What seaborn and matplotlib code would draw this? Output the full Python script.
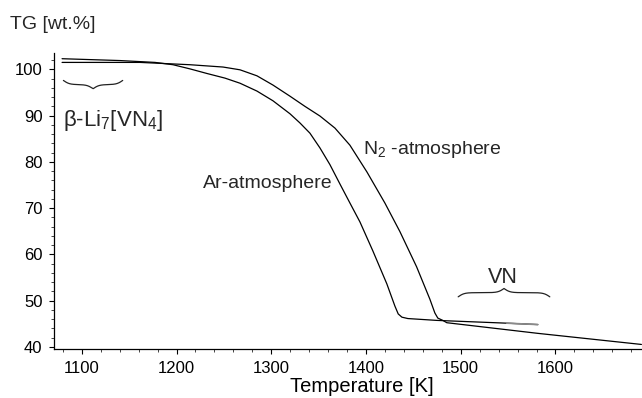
import numpy as np
import pandas as pd
import matplotlib
matplotlib.use("Agg")
import matplotlib.pyplot as plt
import seaborn as sns

# ---- data ----
ar_temp = [1079.2, 1140.4, 1177.3, 1196.3, 1214.2, 1232.2, 1251.2, 1267.0, 1284.9,
           1301.8, 1319.7, 1330.3, 1340.8, 1351.4, 1361.9, 1372.5, 1383.0, 1393.6,
           1407.3, 1422.0, 1430.5, 1434.0, 1437.9, 1444.2, 1474.8, 1548.6, 1581.3]
ar_tg = [102.3, 101.9, 101.5, 101.0, 100.1, 99.1, 98.1, 97.0, 95.3,
         93.2, 90.4, 88.4, 86.2, 83.0, 79.4, 75.2, 71.1, 67.0,
         60.7, 53.6, 48.8, 47.1, 46.4, 46.1, 45.7, 45.1, 44.8]

n2_temp = [1079.2, 1161.5, 1214.2, 1249.1, 1267.0, 1284.9, 1301.8, 1319.7, 1335.5,
           1351.4, 1367.2, 1383.0, 1401.0, 1419.9, 1435.8, 1453.4, 1467.4, 1472.7,
           1475.8, 1481.1, 1485.3, 1581.3, 1690.7]
n2_tg = [101.5, 101.5, 101.0, 100.5, 99.9, 98.6, 96.6, 94.2, 92.0,
         89.9, 87.3, 83.6, 77.8, 71.1, 64.9, 57.3, 50.3, 47.3,
         46.2, 45.7, 45.2, 42.9, 40.5]

ar_grey_from = 1548  # tail of the Ar curve drawn in grey

x_ticks = [1100, 1200, 1300, 1400, 1500, 1600]
y_ticks = [40, 50, 60, 70, 80, 90, 100]

labels = {
    "ylabel": "TG [wt.%]",
    "xlabel": "Temperature [K]",
    "ar": "Ar-atmosphere",
    "n2": "N$_2$ -atmosphere",
    "phase1": "β-Li$_7$[VN$_4$]",
    "phase2": "VN",
}

# brace extents (x0, x1, y of the line)
brace1 = (1080.6, 1143.2, 96.7)
brace2 = (1497.3, 1594.0, 51.7)

# ---- style ----
sns.set_theme(style="ticks")
plt.rcParams["font.family"] = ["Liberation Sans", "DejaVu Sans"]
plt.rcParams["mathtext.fontset"] = "custom"
plt.rcParams["mathtext.rm"] = "Liberation Sans"
plt.rcParams["mathtext.it"] = "Liberation Sans"
plt.rcParams["mathtext.default"] = "regular"

df = pd.concat([
    pd.DataFrame({"T": ar_temp, "TG": ar_tg, "atm": "Ar"}),
    pd.DataFrame({"T": n2_temp, "TG": n2_tg, "atm": "N2"}),
], ignore_index=True)

fig = plt.figure(figsize=(6.42, 3.98), dpi=100)
ax_l, ax_r, ax_t, ax_b = 54.3, 641.7, 52.7, 349.3
ax = fig.add_axes([ax_l / 642, 1 - ax_b / 398, (ax_r - ax_l) / 642, (ax_b - ax_t) / 398])

sns.lineplot(data=df, x="T", y="TG", hue="atm", palette={"Ar": "black", "N2": "black"},
             sort=False, estimator=None, linewidth=0.9, legend=False, ax=ax)
tail = df[(df["atm"] == "Ar") & (df["T"] >= ar_grey_from)]
sns.lineplot(data=tail, x="T", y="TG", color="#8a8a8a", sort=False, estimator=None,
             linewidth=1.2, legend=False, ax=ax)

ax.set_xlim(1071, 1691)
ax.set_ylim(39.45, 103.6)
ax.set_xticks(x_ticks)
ax.set_yticks(y_ticks)
ax.set_xticks(np.arange(1080, 1691, 20), minor=True)
ax.set_yticks(np.arange(40, 104, 2), minor=True)
ax.tick_params(axis="both", which="major", direction="out", length=3.5, width=0.8,
               labelsize=12, pad=5, colors="black")
ax.tick_params(axis="both", which="minor", direction="out", length=2, width=0.6)
for s in ["top", "right"]:
    ax.spines[s].set_visible(False)
for s in ["left", "bottom"]:
    ax.spines[s].set_linewidth(0.9)
    ax.spines[s].set_color("black")

ax.set_xlabel(labels["xlabel"], fontsize=14.5, color="black")
ax.xaxis.set_label_coords((362 - ax_l) / (ax_r - ax_l), -(392 - ax_b) / (ax_b - ax_t))
ax.xaxis.label.set_va("baseline")
ax.set_ylabel("")
fig.text(10 / 642, 1 - 29 / 398, labels["ylabel"], fontsize=14, ha="left", va="baseline")


def brace(ax, x0, x1, y, h, up, curl_px=3.0):
    """Curly brace: up=True -> middle tip points up (over-brace)."""
    n = 200
    width = x1 - x0
    width_px = width * (ax_r - ax_l) / 620.0
    xh = np.linspace(0, 0.5, n)
    beta = width_px / curl_px
    yh = 1 / (1 + np.exp(-beta * (xh - xh[0]))) + 1 / (1 + np.exp(-beta * (xh - xh[-1])))
    yy = np.concatenate([yh, yh[-2::-1]]) - 1.0
    xx = x0 + np.linspace(0, 1, len(yy)) * width
    sign = 1 if up else -1
    ax.plot(xx, y + sign * yy * h, color="#222222", lw=0.9)


brace(ax, *brace1, h=1.8, up=False)
brace(ax, *brace2, h=1.8, up=True)

ax.text(1080.6, 87.8, labels["phase1"], fontsize=16, ha="left", va="baseline")
ax.text(1228.3, 74.3, labels["ar"], fontsize=14, ha="left", va="baseline")
ax.text(1397, 81.7, labels["n2"], fontsize=14, ha="left", va="baseline")
ax.text(1544.5, 53.7, labels["phase2"], fontsize=15.5, ha="center", va="baseline")

fig.savefig("out.png", dpi=100)
